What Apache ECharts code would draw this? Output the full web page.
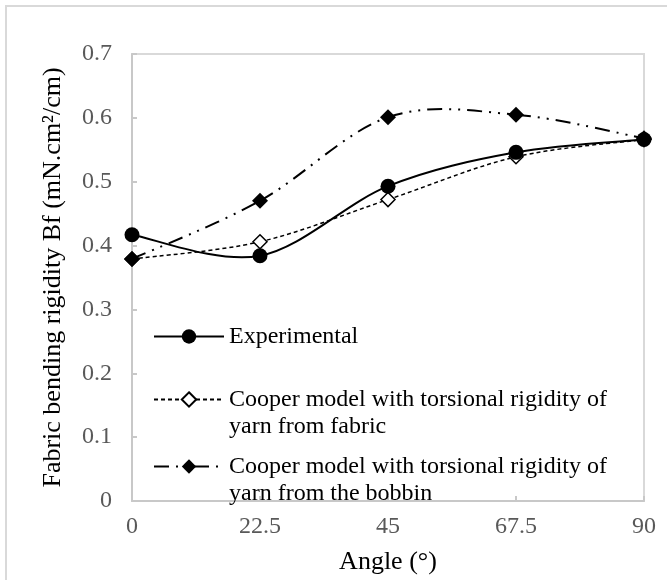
<!DOCTYPE html>
<html>
<head>
<meta charset="utf-8">
<script src="https://cdn.jsdelivr.net/npm/echarts@6/dist/echarts.min.js"></script>
<style>
  html, body { margin: 0; padding: 0; background: #fff; }
  #rigidity_chart { width: 667px; height: 580px; }
</style>
</head>
<body>
<div id="rigidity_chart"></div>
<script>
// angle (deg)
var angles = [0, 22.5, 45, 67.5, 90];
// bending rigidity Bf (mN.cm2/cm)
var experimental = [0.417, 0.384, 0.493, 0.546, 0.566];
var cooperFabric = [0.379, 0.406, 0.472, 0.539, 0.566];
var cooperBobbin = [0.379, 0.470, 0.601, 0.605, 0.568];

var seriesNames = [
  "Experimental",
  "Cooper model with torsional rigidity of\nyarn from fabric",
  "Cooper model with torsional rigidity of\nyarn from the bobbin"
];

var FONT = "'Liberation Serif', 'Times New Roman', serif";

function pairs(ys) {
  return angles.map(function (a, i) { return [a, ys[i]]; });
}

// excel-like smoothed line: each point draws a bezier to the next one
// (echarts' own smooth clamps the control points, so no overshoot)
function smoothSegment(ys, width, dash) {
  return function (params, api) {
    var i = params.dataIndex;
    var n = angles.length;
    if (i >= n - 1) return null;
    var pt = function (k) {
      k = Math.max(0, Math.min(n - 1, k));
      return api.coord([angles[k], ys[k]]);
    };
    var p0 = pt(i - 1), p1 = pt(i), p2 = pt(i + 1), p3 = pt(i + 2);
    var t = 1 / 6;
    return {
      type: "bezierCurve",
      shape: {
        x1: p1[0], y1: p1[1],
        cpx1: p1[0] + (p2[0] - p0[0]) * t,
        cpy1: p1[1] + (p2[1] - p0[1]) * t,
        cpx2: p2[0] - (p3[0] - p1[0]) * t,
        cpy2: p2[1] - (p3[1] - p1[1]) * t,
        x2: p2[0], y2: p2[1]
      },
      style: { fill: null, stroke: "#000", lineWidth: width, lineDash: dash }
    };
  };
}

var myChart = echarts.init(document.getElementById("rigidity_chart"));

var legendText = {
  color: "#000",
  fontFamily: FONT,
  fontSize: 24,
  lineHeight: 27
};

function legendFor(idx, top, twoLines) {
  return {
    data: [seriesNames[idx]],
    left: 153, top: top, padding: 0,
    itemWidth: 70, itemHeight: 18,
    selectedMode: false,
    lineStyle: { opacity: 1 },
    // blank first line keeps the icon level with the first text line
    formatter: twoLines ? function (name) { return " \n" + name; } : null,
    textStyle: legendText
  };
}

var option = {
  backgroundColor: "#fff",
  animation: false,
  graphic: [
    {
      type: "rect",
      shape: { x: 6, y: 6, width: 700, height: 620 },
      style: { fill: "none", stroke: "#d9d9d9", lineWidth: 2 },
      silent: true
    }
  ],
  grid: {
    left: 132,
    top: 54,
    right: 23,
    bottom: 75,
    show: true,
    borderColor: "#d9d9d9",
    borderWidth: 2
  },
  legend: [
    legendFor(0, 323, false),
    legendFor(1, 359, true),
    legendFor(2, 426, true)
  ],
  xAxis: {
    type: "value",
    min: 0,
    max: 90,
    interval: 22.5,
    name: "Angle (°)",
    nameLocation: "middle",
    nameGap: 48,
    nameTextStyle: { color: "#000", fontFamily: FONT, fontSize: 26 },
    axisLine: { lineStyle: { color: "#c8c8c8", width: 2 } },
    axisTick: { inside: true, length: 5, lineStyle: { color: "#c8c8c8", width: 2 } },
    splitLine: { show: false },
    axisLabel: {
      color: "#595959",
      fontFamily: FONT,
      fontSize: 24,
      margin: 14,
      formatter: function (v) { return String(v); }
    }
  },
  yAxis: {
    type: "value",
    min: 0,
    max: 0.7,
    interval: 0.1,
    name: "Fabric bending rigidity Bf (mN.cm²/cm)",
    nameLocation: "middle",
    nameGap: 66,
    nameTextStyle: { color: "#000", fontFamily: FONT, fontSize: 26 },
    axisLine: { show: true, lineStyle: { color: "#c8c8c8", width: 2 } },
    axisTick: { show: true, inside: true, length: 5, lineStyle: { color: "#c8c8c8", width: 2 } },
    splitLine: { show: false },
    axisLabel: {
      color: "#595959",
      fontFamily: FONT,
      fontSize: 24,
      margin: 20,
      formatter: function (v) { return v === 0 ? "0" : v.toFixed(1); }
    }
  },
  series: [
    // curves
    {
      type: "custom",
      silent: true,
      z: 1,
      renderItem: smoothSegment(cooperBobbin, 2, [15, 7, 2, 7, 2, 7]),
      encode: { x: 0, y: 1 },
      data: pairs(cooperBobbin)
    },
    {
      type: "custom",
      silent: true,
      z: 1,
      renderItem: smoothSegment(cooperFabric, 1.5, [4, 3]),
      encode: { x: 0, y: 1 },
      data: pairs(cooperFabric)
    },
    {
      type: "custom",
      silent: true,
      z: 1,
      renderItem: smoothSegment(experimental, 2, null),
      encode: { x: 0, y: 1 },
      data: pairs(experimental)
    },
    // markers (+ legend entries)
    {
      name: seriesNames[1],
      type: "line",
      symbol: "diamond",
      symbolSize: 14,
      itemStyle: { color: "#fff", borderColor: "#000", borderWidth: 1.5 },
      lineStyle: { color: "#000", width: 1.5, type: [4, 3], opacity: 0 },
      data: pairs(cooperFabric)
    },
    {
      name: seriesNames[2],
      type: "line",
      symbol: "diamond",
      symbolSize: 16,
      itemStyle: { color: "#000" },
      lineStyle: { color: "#000", width: 2, type: [15, 7, 2, 7, 2, 7], opacity: 0 },
      data: pairs(cooperBobbin)
    },
    {
      name: seriesNames[0],
      type: "line",
      symbol: "circle",
      symbolSize: 15,
      itemStyle: { color: "#000" },
      lineStyle: { color: "#000", width: 2, opacity: 0 },
      data: pairs(experimental)
    }
  ]
};

myChart.setOption(option);
window.onresize = myChart.resize;
</script>
</body>
</html>
